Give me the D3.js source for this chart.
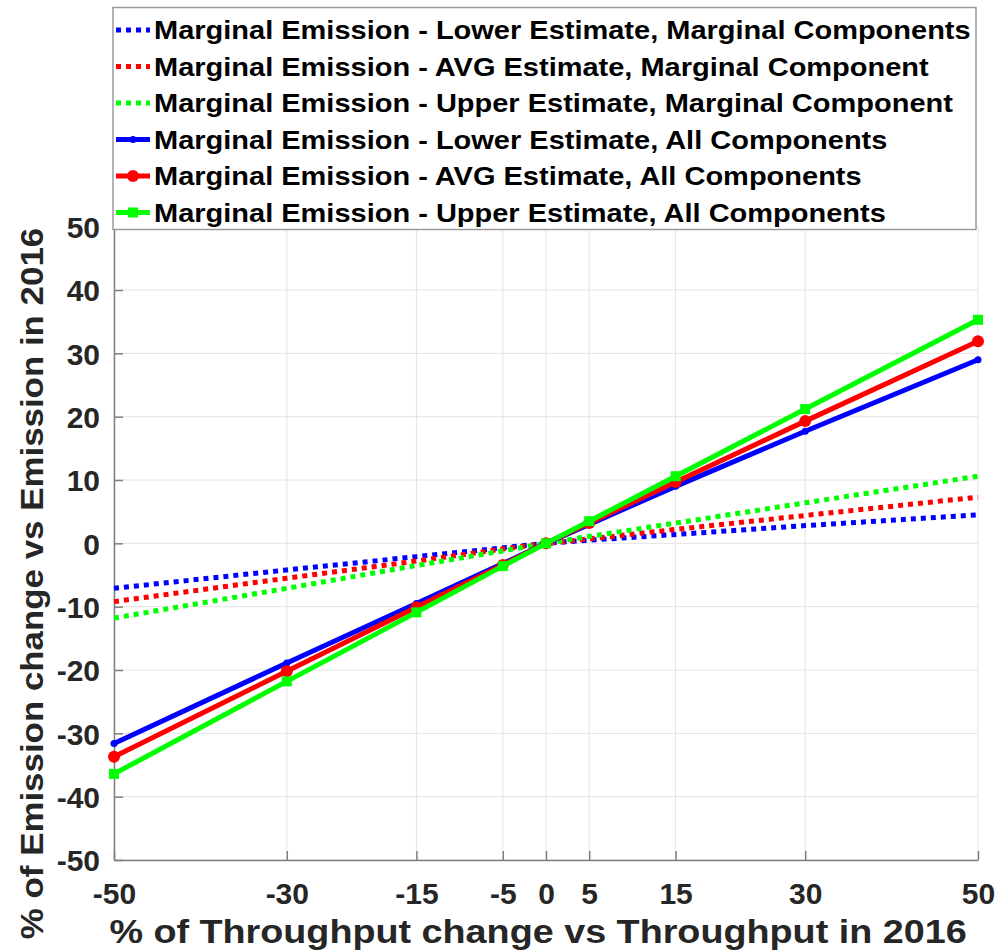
<!DOCTYPE html>
<html>
<head>
<meta charset="utf-8">
<script src="https://cdn.jsdelivr.net/npm/d3@7"></script>
<style>
  body { margin: 0; background: #fff; }
  svg { display: block; font-family: "Liberation Sans", Arial, sans-serif; font-weight: bold; }
</style>
</head>
<body>
<svg id="chart" width="1000" height="952"></svg>
<script>
// throughput change (%) — x positions of every point
const throughput = [-50, -30, -15, -5, 0, 5, 15, 30, 50]

// emission change (%)
const lowerMarginal = [-7.1, -4.2, -2.1, -0.7, 0, 0.5, 1.4, 2.8, 4.5]
const avgMarginal = [-9.2, -5.5, -2.8, -0.9, 0, 0.7, 2.2, 4.4, 7.3]
const upperMarginal = [-11.8, -7.1, -3.5, -1.2, 0, 1.1, 3.2, 6.4, 10.6]
const lowerAll = [-31.6, -18.9, -9.5, -3.2, 0, 3.0, 9.0, 17.7, 29.0]
const avgAll = [-33.7, -20.2, -10.1, -3.4, 0, 3.2, 9.7, 19.3, 31.9]
const upperAll = [-36.4, -21.8, -10.9, -3.6, 0, 3.5, 10.6, 21.2, 35.3]

const yTicks = [-50, -40, -30, -20, -10, 0, 10, 20, 30, 40, 50]

const seriesNames = [
    'Marginal Emission - Lower Estimate, Marginal Components',
    'Marginal Emission - AVG Estimate, Marginal Component',
    'Marginal Emission - Upper Estimate, Marginal Component',
    'Marginal Emission - Lower Estimate, All Components',
    'Marginal Emission - AVG Estimate, All Components',
    'Marginal Emission - Upper Estimate, All Components'
]

const series = [
    { name: seriesNames[0], values: lowerMarginal, color: '#0000ff', dotted: true, marker: null },
    { name: seriesNames[1], values: avgMarginal, color: '#ff0000', dotted: true, marker: null },
    { name: seriesNames[2], values: upperMarginal, color: '#00ff00', dotted: true, marker: null },
    { name: seriesNames[3], values: lowerAll, color: '#0000ff', dotted: false, marker: 'dot' },
    { name: seriesNames[4], values: avgAll, color: '#ff0000', dotted: false, marker: 'circle' },
    { name: seriesNames[5], values: upperAll, color: '#00ff00', dotted: false, marker: 'square' }
]

const plot = { left: 114, right: 978, top: 226.7, bottom: 860 }
const svg = d3.select('#chart')

const x = d3.scaleLinear().domain([-50, 50]).range([plot.left, plot.right])
const y = d3.scaleLinear().domain([-50, 50]).range([plot.bottom, plot.top])

// the picture's text is a bit wider than the plain font, so stretch it
function stretchedText(parent, tx, ty, sx, size, str, anchor, rotate) {
    return parent.append('text')
        .attr('transform', `translate(${tx},${ty})` + (rotate ? ` rotate(${rotate})` : '') + ` scale(${sx},1)`)
        .attr('text-anchor', anchor)
        .style('font-size', size + 'px')
        .text(str)
}

// grid
svg.append('g')
    .selectAll('line')
    .data(throughput)
    .join('line')
    .attr('x1', d => x(d)).attr('x2', d => x(d))
    .attr('y1', plot.top).attr('y2', plot.bottom)
    .attr('stroke', '#e3e3e3').attr('stroke-width', 1)

svg.append('g')
    .selectAll('line')
    .data(yTicks)
    .join('line')
    .attr('x1', plot.left).attr('x2', plot.right)
    .attr('y1', d => y(d)).attr('y2', d => y(d))
    .attr('stroke', '#e3e3e3').attr('stroke-width', 1)

// axes
let xAxis = svg.append('g')
    .attr('transform', `translate(0,${plot.bottom})`)
    .call(d3.axisBottom(x).tickValues(throughput).tickFormat(d => String(d))
        .tickSizeInner(-9).tickSizeOuter(0).tickPadding(23))
let yAxis = svg.append('g')
    .attr('transform', `translate(${plot.left},0)`)
    .call(d3.axisLeft(y).tickValues(yTicks).tickFormat(d => String(d))
        .tickSizeInner(-9).tickSizeOuter(0).tickPadding(14))

for (let ax of [xAxis, yAxis]) {
    ax.select('.domain').attr('stroke', '#7f7f7f').attr('stroke-width', 1.5)
    ax.selectAll('.tick line').attr('stroke', '#7f7f7f').attr('stroke-width', 1.5)
    ax.selectAll('.tick text')
        .attr('fill', '#262626')
        .style('font-size', '30px')
        .style('font-family', '"Liberation Sans", Arial, sans-serif')
        .style('font-weight', 'bold')
}
xAxis.selectAll('.tick text').attr('dy', '0.71em')
yAxis.selectAll('.tick text').attr('dy', '0.36em')

// axis titles
stretchedText(svg, 538, 943, 1.11, 34, '% of Throughput change vs Throughput in 2016', 'middle')
    .attr('fill', '#262626')
stretchedText(svg, 43, 583.5, 1.09, 32, '% of Emission change vs Emission in 2016', 'middle', -90)
    .attr('fill', '#262626')

// lines
const line = d3.line()
    .x((d, i) => x(throughput[i]))
    .y(d => y(d))

function drawMarker(sel, marker, color) {
    if (marker === 'dot') {
        sel.append('circle').attr('r', 3.5).attr('fill', color)
    } else if (marker === 'circle') {
        sel.append('circle').attr('r', 6).attr('fill', color)
    } else if (marker === 'square') {
        sel.append('rect').attr('x', -5).attr('y', -5).attr('width', 10).attr('height', 10).attr('fill', color)
    }
}

series.forEach(s => {
    svg.append('path')
        .datum(s.values)
        .attr('d', line)
        .attr('fill', 'none')
        .attr('stroke', s.color)
        .attr('stroke-width', 5)
        .attr('stroke-dasharray', s.dotted ? '5,5' : null)

    if (s.marker) {
        svg.append('g')
            .selectAll('g')
            .data(s.values)
            .join('g')
            .attr('transform', (d, i) => `translate(${x(throughput[i])},${y(d)})`)
            .each(function () { drawMarker(d3.select(this), s.marker, s.color) })
    }
})

// legend
const legend = svg.append('g')
legend.append('rect')
    .attr('x', 113).attr('y', 7.5)
    .attr('width', 863).attr('height', 222)
    .attr('fill', '#fff')
    .attr('stroke', '#9a9a9a').attr('stroke-width', 1.5)

series.forEach((s, i) => {
    let rowY = 30 + i * 36.5
    let row = legend.append('g').attr('transform', `translate(0,${rowY})`)
    row.append('line')
        .attr('x1', 116).attr('x2', 150)
        .attr('y1', 0).attr('y2', 0)
        .attr('stroke', s.color).attr('stroke-width', 5)
        .attr('stroke-dasharray', s.dotted ? '5,5' : null)
    if (s.marker) {
        let m = row.append('g').attr('transform', 'translate(133,0)')
        drawMarker(m, s.marker, s.color)
    }
    stretchedText(row, 154, 9, 1.16, 25, s.name, 'start')
        .attr('fill', '#000')
})
</script>
</body>
</html>
